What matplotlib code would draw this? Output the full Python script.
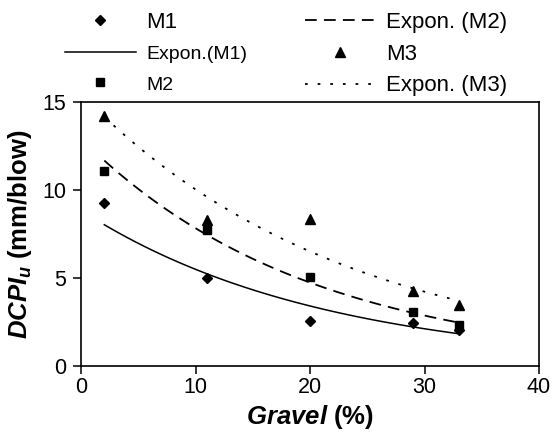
import numpy as np
import matplotlib
matplotlib.use("Agg")
import matplotlib.pyplot as plt

plt.rcParams["font.family"] = ["Liberation Sans", "DejaVu Sans"]
plt.rcParams["mathtext.fontset"] = "custom"
plt.rcParams["mathtext.rm"] = "Liberation Sans:bold"
plt.rcParams["mathtext.it"] = "Liberation Sans:bold:italic"
plt.rcParams["mathtext.bf"] = "Liberation Sans:bold"

# Gravel content (%) and measured DCPI values (mm/blow)
gravel = [2, 11, 20, 29, 33]
m1 = [9.25, 5.0, 2.55, 2.44, 2.04]
m2 = [11.05, 7.7, 5.05, 3.06, 2.33]
m3 = [14.2, 8.28, 8.34, 4.25, 3.46]

x_ticks = [0, 10, 20, 30, 40]
y_ticks = [0, 5, 10, 15]


def expon_trend(x, y):
    """Least-squares exponential trendline y = a*exp(b*x)."""
    b, ln_a = np.polyfit(x, np.log(y), 1)
    xs = np.linspace(min(x), max(x), 120)
    return xs, np.exp(ln_a + b * xs)


fig = plt.figure(figsize=(5.54, 4.36), dpi=100)
ax = fig.add_axes([0.147, 0.160, 0.826, 0.607])

h_m1, = ax.plot(gravel, m1, linestyle="none", marker="D", markersize=5.5,
                color="black", label="M1")
xs, ys = expon_trend(gravel, m1)
h_e1, = ax.plot(xs, ys, color="black", lw=1.1, label="Expon.(M1)")
h_m2, = ax.plot(gravel, m2, linestyle="none", marker="s", markersize=6,
                color="black", label="M2")
xs, ys = expon_trend(gravel, m2)
h_e2, = ax.plot(xs, ys, color="black", lw=1.3, linestyle=(0, (6.5, 4)),
                label="Expon. (M2)")
h_m3, = ax.plot(gravel, m3, linestyle="none", marker="^", markersize=7.5,
                color="black", label="M3")
xs, ys = expon_trend(gravel, m3)
h_e3, = ax.plot(xs, ys, color="black", lw=1.3, linestyle=(0, (1.5, 5.5)),
                label="Expon. (M3)")

ax.set_xlim(0, 40)
ax.set_ylim(0, 15)
ax.set_xticks(x_ticks)
ax.set_yticks(y_ticks)
ax.tick_params(direction="out", length=6, width=1.1, labelsize=15.5)
ax.tick_params(axis="x", pad=2)
ax.tick_params(axis="y", pad=5)
for s in ax.spines.values():
    s.set_linewidth(1.2)

ax.set_xlabel(r"$Gravel$ (%)", fontsize=18.5, fontweight="bold", labelpad=3)
ax.set_ylabel(r"$DCPI_u$ (mm/blow)", fontsize=18.5, fontweight="bold",
              labelpad=6)

leg = fig.legend(handles=[h_m1, h_e1, h_m2, h_e2, h_m3, h_e3],
                 ncol=2, frameon=False, loc="upper left",
                 bbox_to_anchor=(0.089, 1.008), fontsize=16,
                 handlelength=3.2, handletextpad=0.45, columnspacing=2.6,
                 labelspacing=0.48, borderaxespad=0.3)
texts = leg.get_texts()
texts[1].set_fontsize(14)
texts[2].set_fontsize(14)

fig.savefig("out.png", dpi=100)
